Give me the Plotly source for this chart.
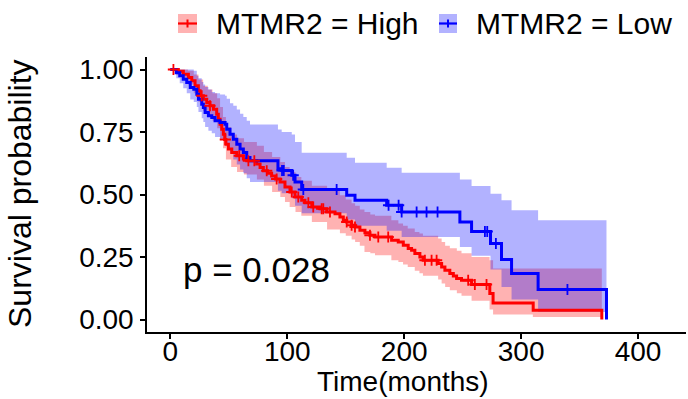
import numpy as np
import plotly.graph_objects as go

# ---------------- data ----------------
# MTMR2 = Low (blue)
low_t = [0, 5, 8, 11, 14, 17, 20, 22.6, 24, 26.8, 28.2, 29.7, 32.5, 35.4, 38.2, 42.5, 46.8, 48.2, 51, 53.8,
         56.8, 59.6, 62.4, 65.3, 68.1, 92, 95.2, 103.8, 106.6, 112.3, 150.8, 157.9, 185, 197.8, 247.6, 257.6,
         273.8, 283.2, 291.8, 314.5, 373]
low_s = [1.0, 0.987, 0.975, 0.961, 0.948, 0.928, 0.921, 0.901, 0.881, 0.861, 0.848, 0.828, 0.815, 0.808, 0.795,
         0.788, 0.781, 0.761, 0.741, 0.721, 0.701, 0.682, 0.668, 0.648, 0.635, 0.603, 0.596, 0.577, 0.55, 0.52,
         0.497, 0.477, 0.457, 0.43, 0.39, 0.352, 0.304, 0.24, 0.184, 0.12, 0.0]
low_hi = [1, 1, 1, 1, 1, 1, 0.995, 0.975, 0.965, 0.95, 0.94, 0.93, 0.92, 0.91, 0.905, 0.9, 0.895, 0.883, 0.865,
          0.855, 0.84, 0.823, 0.81, 0.795, 0.78, 0.76, 0.75, 0.74, 0.71, 0.667, 0.647, 0.627, 0.607, 0.587, 0.56,
          0.534, 0.503, 0.477, 0.437, 0.397]
low_lo = [1, 0.965, 0.945, 0.925, 0.905, 0.88, 0.87, 0.85, 0.83, 0.805, 0.79, 0.77, 0.755, 0.745, 0.73, 0.72,
          0.71, 0.69, 0.665, 0.64, 0.62, 0.6, 0.585, 0.565, 0.55, 0.515, 0.505, 0.485, 0.455, 0.425, 0.4, 0.375,
          0.355, 0.33, 0.29, 0.255, 0.2, 0.13, 0.08, 0.03]
low_cens = [95.5, 97, 105, 113.7, 142.2, 186.6, 195.2, 197.8, 210.6, 219.1, 228.5, 269, 271, 278.4, 339.6]

# MTMR2 = High (red)
high_t = [0, 6.8, 11.1, 15.4, 18.3, 21.1, 23.9, 25.4, 28.2, 31.1, 33.9, 36.8, 39.6, 41, 42.5, 43.9, 45.3, 46.5,
          47.5, 49.6, 52.5, 56.8, 62.4, 65.3, 73.8, 76.7, 79.5, 83, 86.6, 90, 93.8, 98, 102.3, 106.6, 112.3, 115.1,
          120.9, 128, 133.7, 140.8, 145, 147.9, 150.8, 155, 157.9, 162.1, 166.4, 170.7, 175, 189.2, 194.9, 199.2,
          203.4, 206.3, 209.1, 213.4, 216.2, 229, 232, 234.8, 239, 242, 244.8, 249, 257.6, 273.2, 276, 310.3, 369]
high_s = [1.0, 0.993, 0.981, 0.968, 0.955, 0.935, 0.915, 0.895, 0.881, 0.868, 0.855, 0.841, 0.821, 0.801, 0.781,
          0.761, 0.741, 0.72, 0.701, 0.682, 0.668, 0.655, 0.642, 0.635, 0.622, 0.608, 0.595, 0.585, 0.574, 0.562,
          0.55, 0.53, 0.51, 0.49, 0.477, 0.467, 0.45, 0.443, 0.43, 0.423, 0.41, 0.397, 0.39, 0.377, 0.37, 0.357,
          0.347, 0.337, 0.33, 0.317, 0.31, 0.297, 0.284, 0.277, 0.264, 0.25, 0.237, 0.224, 0.21, 0.197, 0.184,
          0.174, 0.164, 0.157, 0.14, 0.104, 0.066, 0.037, 0.0]
high_ci_t = [0, 5, 10, 15, 20, 24, 28, 32, 36, 40, 42.5, 45, 47.5, 52, 57, 63, 74, 80, 87, 94, 98, 102, 107, 112,
             121, 134, 145, 150, 155, 158, 162, 166, 171, 175, 189, 195, 199, 203, 209, 213, 216, 229, 232, 235,
             239, 245, 249, 257.6, 273, 276, 310, 369]
high_hi = [1, 1, 1, 0.995, 0.98, 0.96, 0.935, 0.92, 0.905, 0.885, 0.85, 0.81, 0.77, 0.74, 0.725, 0.71, 0.695,
           0.67, 0.65, 0.63, 0.61, 0.59, 0.57, 0.555, 0.535, 0.515, 0.497, 0.48, 0.465, 0.455, 0.44, 0.43, 0.42,
           0.415, 0.397, 0.384, 0.375, 0.364, 0.35, 0.344, 0.335, 0.324, 0.31, 0.295, 0.285, 0.275, 0.265, 0.25,
           0.237, 0.204, 0.204]
high_lo = [1, 0.98, 0.96, 0.94, 0.905, 0.87, 0.835, 0.815, 0.795, 0.765, 0.725, 0.685, 0.64, 0.61, 0.59, 0.58,
           0.56, 0.535, 0.51, 0.49, 0.47, 0.45, 0.43, 0.415, 0.39, 0.36, 0.345, 0.335, 0.32, 0.31, 0.295, 0.27,
           0.265, 0.257, 0.237, 0.23, 0.22, 0.21, 0.195, 0.185, 0.175, 0.16, 0.144, 0.13, 0.117, 0.105, 0.095,
           0.075, 0.04, 0.02, 0.01]
high_cens = [2.6, 26.8, 33.9, 47, 58.9, 66.7, 71.8, 82.4, 90.9, 103.8, 109.4, 118, 122.2, 129.4, 130.8, 136.5,
             150.8, 155, 157.9, 170.7, 177.8, 186.3, 217.7, 223.4, 227.7, 254.7, 260.4, 270.4]

x_ticks = [0, 100, 200, 300, 400]
y_ticks = [0.0, 0.25, 0.5, 0.75, 1.0]
y_tick_text = ["0.00", "0.25", "0.50", "0.75", "1.00"]
legend_labels = ["MTMR2 = High", "MTMR2 = Low"]
p_text = "p = 0.028"

RED = "#FF0000"
BLUE = "#0000FF"
FONT = "Liberation Sans, Arial, sans-serif"


def band_polygon(t, hi, lo):
    """Step-shaped polygon from CI step arrays (len(t) = len(hi) + 1, last t is the end)."""
    xs, ys = [], []
    for i in range(len(hi)):
        xs += [t[i], t[i + 1]]
        ys += [hi[i], hi[i]]
    for i in reversed(range(len(lo))):
        xs += [t[i + 1], t[i]]
        ys += [lo[i], lo[i]]
    return xs, ys


def surv_at(t, s, c):
    idx = np.searchsorted(np.array(t), np.array(c), side="right") - 1
    return list(np.array(s)[idx])


fig = go.Figure()

# confidence bands
hx, hy = band_polygon(high_ci_t, high_hi, high_lo)
fig.add_trace(go.Scatter(x=hx, y=hy, fill="toself", fillcolor="rgba(255,0,0,0.3)",
                         line=dict(width=0), mode="lines", hoverinfo="skip", showlegend=False))
lx, ly = band_polygon(low_t, low_hi, low_lo)
fig.add_trace(go.Scatter(x=lx, y=ly, fill="toself", fillcolor="rgba(0,0,255,0.3)",
                         line=dict(width=0), mode="lines", hoverinfo="skip", showlegend=False))

# KM curves
fig.add_trace(go.Scatter(x=high_t, y=high_s, mode="lines", line=dict(color=RED, width=3, shape="hv"),
                         name=legend_labels[0], showlegend=False))
fig.add_trace(go.Scatter(x=low_t, y=low_s, mode="lines", line=dict(color=BLUE, width=3, shape="hv"),
                         name=legend_labels[1], showlegend=False))

# censor marks
fig.add_trace(go.Scatter(x=high_cens, y=surv_at(high_t, high_s, high_cens), mode="markers",
                         marker=dict(symbol="cross-thin", size=8, line=dict(color=RED, width=1.8)),
                         showlegend=False, hoverinfo="skip"))
fig.add_trace(go.Scatter(x=low_cens, y=surv_at(low_t, low_s, low_cens), mode="markers",
                         marker=dict(symbol="cross-thin", size=8, line=dict(color=BLUE, width=1.8)),
                         showlegend=False, hoverinfo="skip"))

# plot-area geometry in pixels (for legend / titles placed in paper coords)
L, R, T, B = 147, 686, 57, 332
W, H = R - L, B - T


def px(xp):
    return (xp - L) / W


def py(yp):
    return (B - yp) / H


shapes = []
annotations = []
legend_items = [(178, 197, 214, RED, "rgba(255,0,0,0.3)", legend_labels[0]),
                (439, 457, 474, BLUE, "rgba(0,0,255,0.3)", legend_labels[1])]
for x0, x1, xt, col, fillc, lab in legend_items:
    shapes.append(dict(type="rect", xref="paper", yref="paper", x0=px(x0), x1=px(x1), y0=py(33), y1=py(14),
                       fillcolor=fillc, line=dict(width=0)))
    shapes.append(dict(type="line", xref="paper", yref="paper", x0=px(x0), x1=px(x1), y0=py(23.5), y1=py(23.5),
                       line=dict(color=col, width=2.2)))
    xm = (x0 + x1) / 2
    shapes.append(dict(type="line", xref="paper", yref="paper", x0=px(xm), x1=px(xm), y0=py(19.5), y1=py(27.5),
                       line=dict(color=col, width=2)))
    annotations.append(dict(xref="paper", yref="paper", x=px(xt), y=py(24), text=lab, showarrow=False,
                            xanchor="left", yanchor="middle", font=dict(size=30, color="black", family=FONT)))

# p-value
annotations.append(dict(xref="x", yref="y", x=9.0, y=0.2, text=p_text, showarrow=False, xanchor="left",
                        yanchor="middle", font=dict(size=35, color="black", family=FONT)))
# axis titles
annotations.append(dict(xref="paper", yref="paper", x=px(403), y=py(381), text="Time(months)", showarrow=False,
                        xanchor="center", yanchor="middle", font=dict(size=28, color="black", family=FONT)))
annotations.append(dict(xref="paper", yref="paper", x=px(20), y=py(194), text="Survival probability",
                        showarrow=False, textangle=-90, xanchor="center", yanchor="middle",
                        font=dict(size=32, color="black", family=FONT)))

fig.update_layout(
    width=688, height=399,
    margin=dict(l=L, r=688 - R, t=T, b=399 - B),
    plot_bgcolor="white", paper_bgcolor="white",
    showlegend=False,
    shapes=shapes, annotations=annotations,
    font=dict(family=FONT, color="black"),
)
fig.update_xaxes(range=[-20, 441], tickvals=x_ticks, ticktext=[str(v) for v in x_ticks], showgrid=False,
                 zeroline=False, showline=True, linecolor="black", linewidth=1.5, ticks="outside", ticklen=5,
                 tickwidth=1.5, tickcolor="black", ticklabelstandoff=-11,
                 tickfont=dict(size=28, family=FONT, color="black"))
fig.update_yaxes(range=[-0.05, 1.05], tickvals=y_ticks, ticktext=y_tick_text, showgrid=False, zeroline=False,
                 showline=True, linecolor="black", linewidth=1.5, ticks="outside", ticklen=5, tickwidth=1.5,
                 tickcolor="black", ticklabelstandoff=1,
                 tickfont=dict(size=28, family=FONT, color="black"))

fig.write_html("out.html")
